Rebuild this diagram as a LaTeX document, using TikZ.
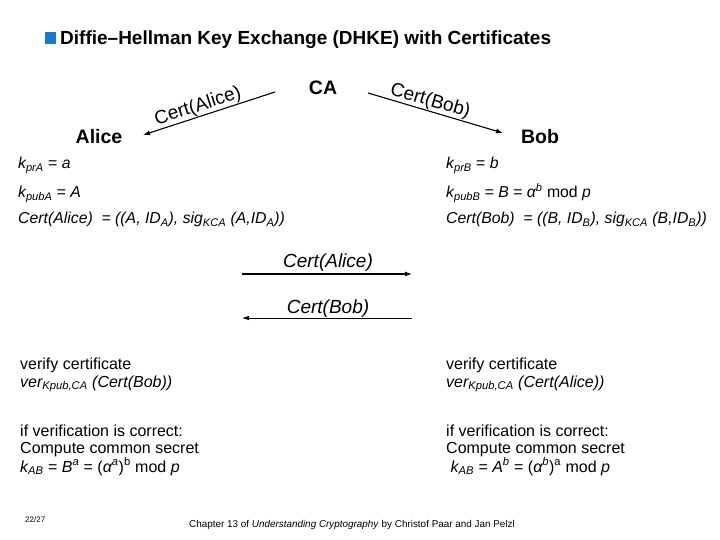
\documentclass[tikz,border=0pt]{standalone}
\usepackage{fontspec}
\setmainfont{Liberation Sans}
\usetikzlibrary{arrows.meta}
\definecolor{titleblue}{RGB}{28,120,206}
\begin{document}
\begin{tikzpicture}[x=1pt,y=-1pt,
  txt/.style={anchor=base west, inner sep=0pt, font=\fontsize{15.8}{18}\selectfont},
  btxt/.style={anchor=base west, inner sep=0pt, font=\fontsize{16}{18}\selectfont},
  party/.style={inner sep=0pt, font=\fontsize{19.5}{22}\selectfont\bfseries},
  toplabel/.style={inner sep=0.5pt, font=\fontsize{19}{22}\selectfont},
  midlabel/.style={anchor=base, inner sep=0pt, font=\fontsize{19}{22}\selectfont\itshape},
  arr/.style={-{Latex[length=7pt,width=5pt]}, line width=1.1pt},
  thinarr/.style={-{Latex[length=7pt,width=4.5pt]}, line width=0.7pt}]
\useasboundingbox (0,0) rectangle (720,540);
% title
\fill[titleblue] (45,32) rectangle (56,44);
\node[anchor=base west, inner sep=0pt, font=\fontsize{19}{22}\selectfont\bfseries] (title) at (60,45) {Diffie–Hellman Key Exchange (DHKE) with Certificates};
% parties
\node[party] (ca) at (323,88) {CA};
\node[party] (alice) at (99,137) {Alice};
\node[party] (bob) at (540,137) {Bob};
\coordinate (caA) at (275,92);
\coordinate (aliceE) at (143,135);
\coordinate (caB) at (368,93);
\coordinate (bobE) at (503,133);
\draw[arr] (caA) -- node[toplabel, sloped, above, pos=0.56] (lblA) {Cert(Alice)} (aliceE);
\draw[arr] (caB) -- node[toplabel, sloped, above, pos=0.44] (lblB) {Cert(Bob)} (bobE);
% left key rows
\node[txt] (a1) at (18,169) {\itshape k\textsubscript{prA} \upshape= \itshape a};
\node[txt] (a2) at (18,197) {\itshape k\textsubscript{pubA} \upshape= \itshape A};
\node[txt] (a3) at (18,224) {\itshape Cert(Alice)~~= ((A, ID\textsubscript{A}), sig\textsubscript{KCA} (A,ID\textsubscript{A}))};
% right key rows
\node[txt] (b1) at (446,169) {\itshape k\textsubscript{prB} \upshape= \itshape b};
\node[txt] (b2) at (446,197) {\itshape k\textsubscript{pubB} \upshape= \itshape B \upshape= \itshape α\textsuperscript{b} \upshape mod \itshape p};
\node[txt] (b3) at (446,224) {\itshape Cert(Bob)~~= ((B, ID\textsubscript{B}), sig\textsubscript{KCA} (B,ID\textsubscript{B}))};
% exchange
\coordinate (mL1) at (242,274);
\coordinate (mR1) at (412,274);
\coordinate (mL2) at (242,318);
\coordinate (mR2) at (412,318);
\node[midlabel] (m1) at (328,267) {Cert(Alice)};
\node[midlabel] (m2) at (328,313) {Cert(Bob)};
\draw[arr] (mL1) -- (mR1);
\draw[thinarr] (mR2) -- (mL2);
% bottom left
\node[btxt] (c1) at (20,369) {verify certificate};
\node[btxt] (c2) at (20,387) {\itshape ver\textsubscript{Kpub,CA} (Cert(Bob))};
\node[btxt] (c3) at (20,436) {if verification is correct:};
\node[btxt] (c4) at (20,453) {Compute common secret};
\node[btxt] (c5) at (20,472) {\itshape k\textsubscript{AB} \upshape= \itshape B\textsuperscript{a} \upshape= (\itshape α\textsuperscript{a}\upshape)\textsuperscript{b} mod \itshape p};
% bottom right
\node[btxt] (d1) at (446,369) {verify certificate};
\node[btxt] (d2) at (446,387) {\itshape ver\textsubscript{Kpub,CA} (Cert(Alice))};
\node[btxt] (d3) at (446,436) {if verification is correct:};
\node[btxt] (d4) at (446,453) {Compute common secret};
\node[btxt] (d5) at (446,472) {\ \itshape k\textsubscript{AB} \upshape= \itshape A\textsuperscript{b} \upshape= (\itshape α\textsuperscript{b}\upshape)\textsuperscript{a} mod \itshape p};
% footer
\node[anchor=base west, inner sep=0pt, font=\fontsize{8}{9}\selectfont] (page) at (25,522) {22/27};
\node[anchor=base, inner sep=0pt, font=\fontsize{9.9}{11}\selectfont] (foot) at (352,527) {Chapter 13 of \textit{Understanding Cryptography} by Christof Paar and Jan Pelzl};
\end{tikzpicture}
\end{document}
